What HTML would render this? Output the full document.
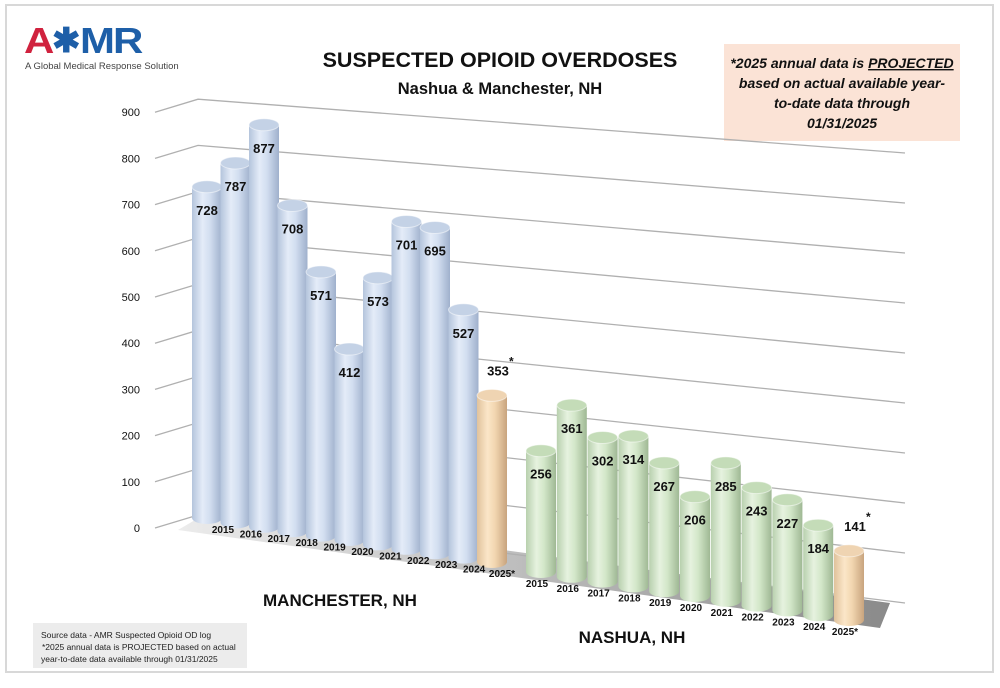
<!DOCTYPE html>
<html><head><meta charset="utf-8"><style>
html,body{margin:0;padding:0;background:#fff;}
body{width:1000px;height:683px;overflow:hidden;font-family:"Liberation Sans",sans-serif;}
</style></head><body>
<svg width="1000" height="683" viewBox="0 0 1000 683" xmlns="http://www.w3.org/2000/svg">
<defs>
<linearGradient id="gb" x1="0" x2="1" y1="0" y2="0"><stop offset="0" stop-color="#b4c4dc"/><stop offset="0.35" stop-color="#e4ecf8"/><stop offset="0.6" stop-color="#d2def0"/><stop offset="1" stop-color="#9fb0cc"/></linearGradient>
<linearGradient id="gg" x1="0" x2="1" y1="0" y2="0"><stop offset="0" stop-color="#b8d0ae"/><stop offset="0.35" stop-color="#e6f2df"/><stop offset="0.6" stop-color="#d3e7c9"/><stop offset="1" stop-color="#9fb894"/></linearGradient>
<linearGradient id="gp" x1="0" x2="1" y1="0" y2="0"><stop offset="0" stop-color="#e0c29c"/><stop offset="0.35" stop-color="#fbe6c8"/><stop offset="0.6" stop-color="#f2d6b0"/><stop offset="1" stop-color="#c8a47e"/></linearGradient>
<linearGradient id="gf" x1="0" x2="1" y1="0" y2="0"><stop offset="0" stop-color="#ececec"/><stop offset="1" stop-color="#8a8a8a"/></linearGradient>
</defs>
<rect x="6" y="5" width="987" height="667" fill="#fff" stroke="#d8d8d8" stroke-width="2"/>
<g>
<text x="24" y="53" font-size="42" font-weight="bold" fill="#d0223e" letter-spacing="-2" transform="translate(24,53) scale(1,0.85) translate(-24,-53)">A</text>
<text x="52" y="52" font-size="34" font-weight="bold" fill="#1e5fa8">✱</text>
<text x="80" y="53" font-size="42" font-weight="bold" fill="#1e5fa8" letter-spacing="-2" transform="translate(80,53) scale(1,0.85) translate(-80,-53)">MR</text>
<text x="25" y="69" font-size="9.5" fill="#444">A Global Medical Response Solution</text>
</g>
<text x="500" y="67" font-size="21.5" font-weight="bold" text-anchor="middle" fill="#111">SUSPECTED OPIOID OVERDOSES</text>
<text x="500" y="94" font-size="16.5" font-weight="bold" text-anchor="middle" fill="#111">Nashua &amp; Manchester, NH</text>
<g>
<rect x="724" y="44" width="236" height="97" fill="#fbe3d6"/>
<g font-size="14" font-weight="bold" font-style="italic" text-anchor="middle" fill="#111">
<text x="842" y="68">*2025 annual data is <tspan text-decoration="underline">PROJECTED</tspan></text>
<text x="842" y="88">based on actual available year-</text>
<text x="842" y="108">to-date data through</text>
<text x="842" y="128">01/31/2025</text></g>
</g>
<polygon points="178,530 212,510 890,603 880,628" fill="url(#gf)"/>
<g id="grid"></g>
<g id="bars"></g>
<g id="labels"></g>
<text x="340" y="606" font-size="17" font-weight="bold" text-anchor="middle" fill="#111">MANCHESTER, NH</text>
<text x="632" y="643" font-size="17" font-weight="bold" text-anchor="middle" fill="#111">NASHUA, NH</text>
<g>
<rect x="33" y="623" width="214" height="45" fill="#ececec"/>
<g font-size="8.5" fill="#222"><text x="41" y="638">Source data - AMR Suspected Opioid OD log</text>
<text x="42" y="650"> *2025 annual data is PROJECTED based on actual</text>
<text x="41" y="662">year-to-date data available through 01/31/2025</text></g>
</g>
</svg>
<script>
const ticks=[0,100,200,300,400,500,600,700,800,900];
const years=["2015","2016","2017","2018","2019","2020","2021","2022","2023","2024","2025*"];
const manchester=[728,787,877,708,571,412,573,701,695,527,353];
const nashua=[256,361,302,314,267,206,285,243,227,184,141];
const NS="http://www.w3.org/2000/svg";
function mk(t,a,p){const e=document.createElementNS(NS,t);for(const k in a)e.setAttribute(k,a[k]);p.appendChild(e);return e;}
const grid=document.getElementById('grid');
ticks.forEach(v=>{
 const cy=515-v*0.462, ry=603-v*0.5;
 const pl=mk('polyline',{points:`155,${cy+13} 198,${cy} 905,${ry}`,fill:'none',stroke:'#b0b0b0','stroke-width':1.3},grid);
 
 
 const t=mk('text',{x:140,y:cy+17,'font-size':11,'text-anchor':'end',fill:'#111'},grid);
 t.textContent=v;
 
 
});
const bars=document.getElementById('bars');
const labels=document.getElementById('labels');
function bar(group,i,v,k,cx,by,proj,ldx){
 const s=0.455+0.0017*k, h=v*s, r=15, e=6, ty=by-h;
 const g=mk('g',{},bars);
 
 
 const fill=proj?'url(#gp)':(group==='manchester'?'url(#gb)':'url(#gg)');
 mk('ellipse',{cx:cx,cy:by,rx:r,ry:e,fill:fill},g);
 mk('rect',{x:cx-r,y:ty,width:2*r,height:h,fill:fill},g);
 mk('ellipse',{cx:cx,cy:ty,rx:r,ry:e,fill:proj?'#efd4b2':(group==='manchester'?'#c4d2e6':'#c4dcb8'),stroke:'#fff','stroke-opacity':0.5},g);
 const lt=mk('text',{x:proj?cx+6:cx,y:proj?ty-20:ty+28,'font-size':13,'font-weight':'bold','text-anchor':'middle',fill:'#111'},g);
 lt.textContent=v;
 
 
 if(proj){const st=mk('text',{x:cx+17,y:ty-30,'font-size':12,'font-weight':'bold',fill:'#111'},g);st.textContent='*';}
 const yt=mk('text',{x:cx+ldx,y:by+15,'font-size':10,'font-weight':'bold','text-anchor':'middle',fill:'#111'},labels);
 yt.textContent=years[i];
 
 
}
manchester.forEach((v,i)=>bar('manchester',i,v,i,207+i*28.5,518+i*4.4,i===10,16-i*0.6));
nashua.forEach((v,i)=>bar('nashua',i,v,11+i,541+i*30.8,572+i*4.8,i===10,-4));
</script>
</body></html>
